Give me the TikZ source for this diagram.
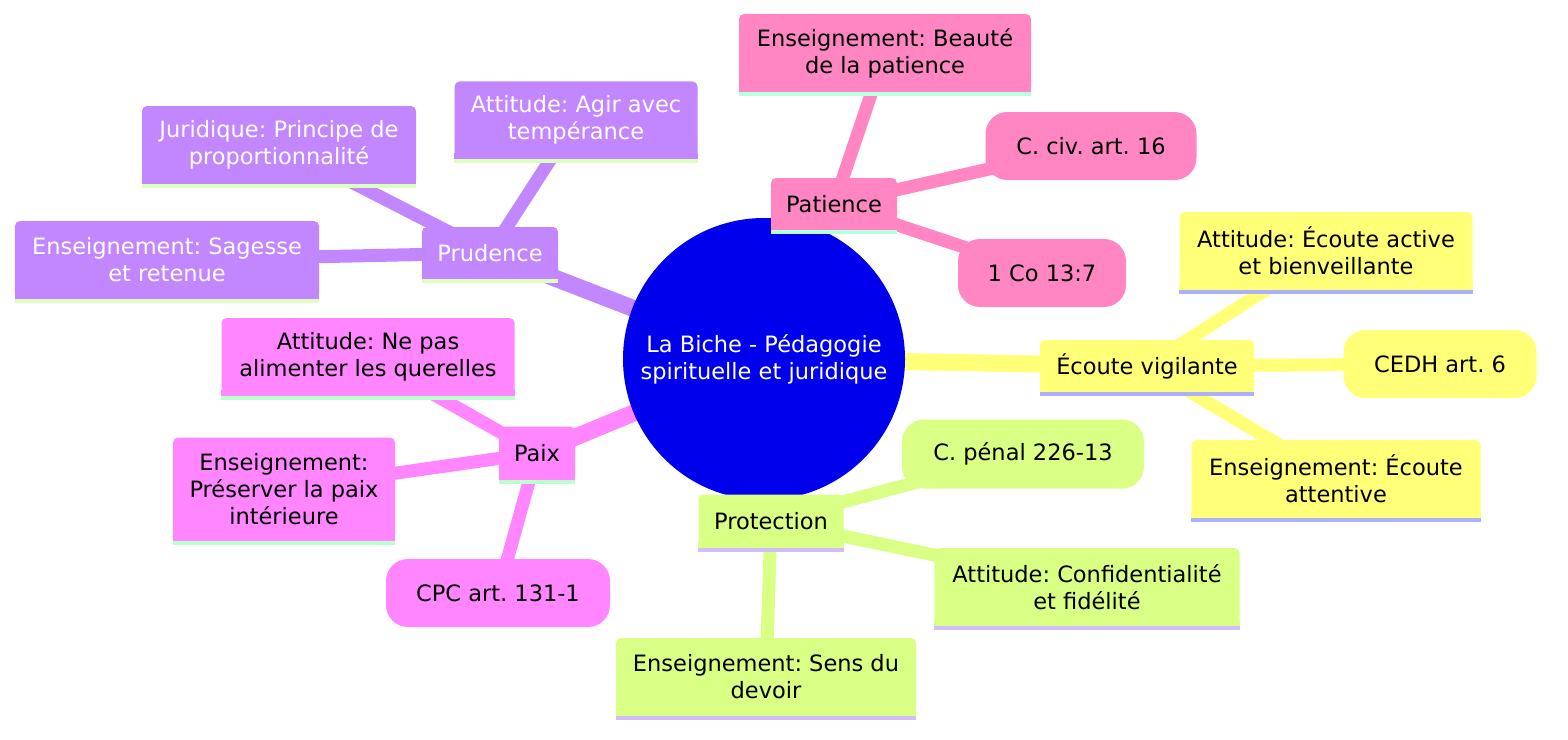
\documentclass[tikz,border=0pt]{standalone}
\usepackage{fontspec}
\setmainfont{DejaVu Sans}
\frenchspacing
\usetikzlibrary{backgrounds}

\definecolor{rootblue}{HTML}{0000EC}
\definecolor{yel}{HTML}{FFFF78}
\definecolor{grn}{HTML}{D9FF85}
\definecolor{pur}{HTML}{C286FF}
\definecolor{mag}{HTML}{FF86FF}
\definecolor{pnk}{HTML}{FF86C2}
\definecolor{yelline}{HTML}{AEAEFF}
\definecolor{grnline}{HTML}{D2BCFA}
\definecolor{purline}{HTML}{DCFFBC}
\definecolor{magline}{HTML}{BAFFCC}
\definecolor{pnkline}{HTML}{B6FFE0}

\tikzset{
  every node/.style={font=\fontsize{22.5bp}{27bp}\selectfont, align=center, inner sep=0pt},
  box/.style 2 args={rounded corners=5bp, minimum width=#1, minimum height=#2},
  pill/.style 2 args={rounded corners=22bp, minimum width=#1, minimum height=#2},
  trunk/.style={line width=17bp},
  twig/.style={line width=13bp},
}

\begin{document}
\begin{tikzpicture}[x=1bp, y=-1bp]
			\useasboundingbox (0,0) rectangle (1568,740);
			% centre
			\node[circle, fill=rootblue, text=white, minimum size=282bp] (root) at (764,359) {La Biche - Pédagogie\\spirituelle et juridique};
			% Prudence
			\node[box={136bp}{52bp}, fill=pur, text=white] (pru) at (490,253) {Prudence};
			\node[box={274bp}{78bp}, fill=pur, text=white] (prujur) at (279,145) {Juridique: Principe de\\proportionnalité};
			\node[box={243bp}{77bp}, fill=pur, text=white] (pruatt) at (576,120) {Attitude: Agir avec\\tempérance};
			\node[box={304bp}{78bp}, fill=pur, text=white] (pruens) at (167,260) {Enseignement: Sagesse\\et retenue};
			% Patience
			\node[box={126bp}{52bp}, fill=pnk] (pat) at (834,204) {Patience};
			\node[box={292bp}{78bp}, fill=pnk] (patens) at (885,53) {Enseignement: Beauté\\de la patience};
			\node[pill={211bp}{68bp}, fill=pnk] (patciv) at (1091,146) {C. civ. art. 16};
			\node[pill={168bp}{68bp}, fill=pnk] (patco) at (1042,273) {1 Co 13:7};
			% Ecoute
			\node[box={214bp}{52bp}, fill=yel] (ecou) at (1147,366) {Écoute vigilante};
			\node[box={293bp}{78bp}, fill=yel] (ecatt) at (1326,251) {Attitude: Écoute active\\et bienveillante};
			\node[pill={193bp}{68bp}, fill=yel] (eccedh) at (1440,364) {CEDH art. 6};
			\node[box={289bp}{78bp}, fill=yel] (ecens) at (1336,479) {Enseignement: Écoute\\attentive};
			% Protection
			\node[box={145bp}{53bp}, fill=grn] (prot) at (771,521) {Protection};
			\node[pill={242bp}{69bp}, fill=grn] (protpen) at (1023,454) {C. pénal 226-13};
			\node[box={305bp}{78bp}, fill=grn] (protatt) at (1087,587) {Attitude: Confidentialité\\et fidélité};
			\node[box={300bp}{78bp}, fill=grn] (protens) at (766,677) {Enseignement: Sens du\\devoir};
			% Paix
			\node[box={76bp}{53bp}, fill=mag] (paix) at (537,453) {Paix};
			\node[box={293bp}{78bp}, fill=mag] (paixatt) at (368,357) {Attitude: Ne pas\\alimenter les querelles};
			\node[box={222bp}{103bp}, fill=mag] (paixens) at (284,489) {Enseignement:\\Préserver la paix\\intérieure};
			\node[pill={224bp}{68bp}, fill=mag] (paixcpc) at (498,593) {CPC art. 131-1};
			% square bottoms and underlines
			\foreach \n/\c/\l in {pru/pur/purline, prujur/pur/purline, pruatt/pur/purline, pruens/pur/purline,
				pat/pnk/pnkline, patens/pnk/pnkline,
				ecou/yel/yelline, ecatt/yel/yelline, ecens/yel/yelline,
				prot/grn/grnline, protatt/grn/grnline, protens/grn/grnline,
				paix/mag/magline, paixatt/mag/magline, paixens/mag/magline} {
				\fill[\c] ([yshift=6bp]\n.south west) rectangle (\n.south east);
				\fill[\l] (\n.south west) rectangle ([yshift=-4bp]\n.south east);
			}
			% branches
			\begin{scope}[on background layer]
				\fill[white] (0,0) rectangle (1568,740);
				\draw[trunk, pur] (root.center) -- (pru.center);
				\draw[trunk, pnk] (root.center) -- (pat.center);
				\draw[trunk, yel] (root.center) -- (ecou.center);
				\draw[trunk, grn] (root.center) -- (prot.center);
				\draw[trunk, mag] (root.center) -- (paix.center);
				\foreach \a/\b/\c in {pru/prujur/pur, pru/pruatt/pur, pru/pruens/pur,
					pat/patens/pnk, pat/patciv/pnk, pat/patco/pnk,
					ecou/ecatt/yel, ecou/eccedh/yel, ecou/ecens/yel,
					prot/protpen/grn, prot/protatt/grn, prot/protens/grn,
					paix/paixatt/mag, paix/paixens/mag, paix/paixcpc/mag}
					\draw[twig, \c] (\a.center) -- (\b.center);
			\end{scope}
		\end{tikzpicture}
\end{document}
